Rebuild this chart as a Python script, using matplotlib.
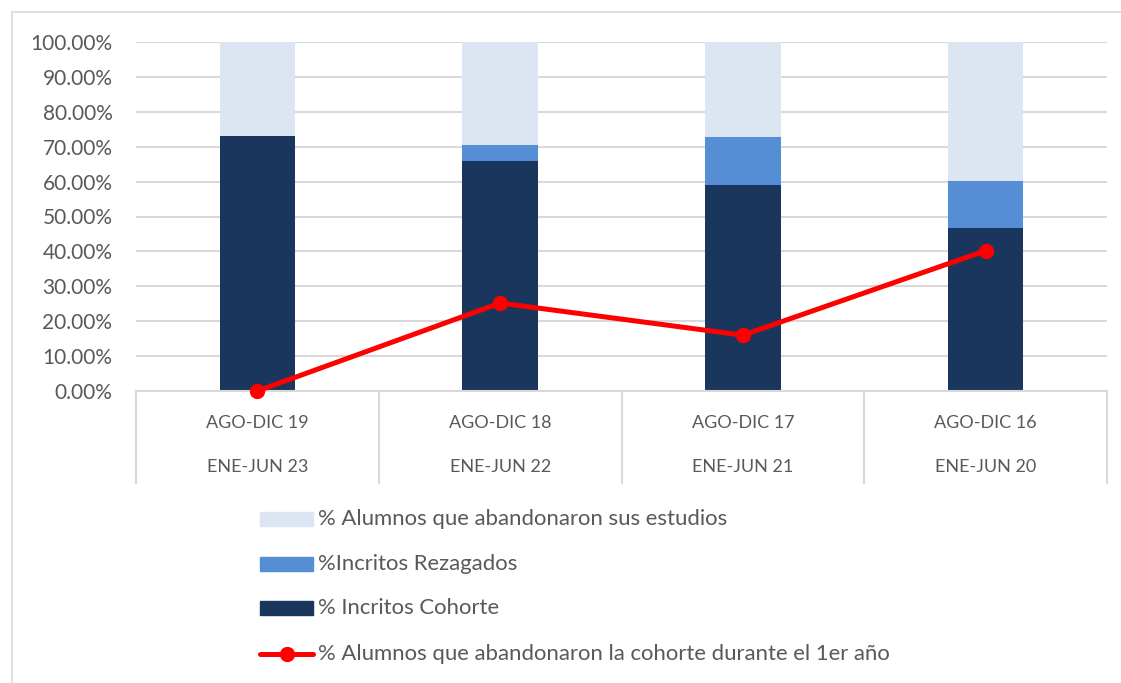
import matplotlib
matplotlib.use("Agg")
import matplotlib.pyplot as plt
import matplotlib.transforms as mtransforms
from matplotlib.patches import Rectangle
from matplotlib.lines import Line2D

# ---- data ----
cat_top = ["AGO-DIC 19", "AGO-DIC 18", "AGO-DIC 17", "AGO-DIC 16"]
cat_bottom = ["ENE-JUN 23", "ENE-JUN 22", "ENE-JUN 21", "ENE-JUN 20"]
cohorte = [0.731, 0.660, 0.591, 0.468]
rezagados = [0.0, 0.045, 0.137, 0.134]
abandonaron = [0.269, 0.295, 0.272, 0.398]
abandono_1er = [0.0, 0.252, 0.160, 0.402]

series_names = ["% Alumnos que abandonaron sus estudios",
                "%Incritos Rezagados",
                "% Incritos Cohorte",
                "% Alumnos que abandonaron la cohorte durante el 1er año"]

C_COH = "#1a365d"
C_REZ = "#558ed5"
C_ABA = "#dce6f2"
C_LINE = "#ff0000"
C_GRID = "#d9d9d9"
C_TXT = "#595959"
FONT = "Lato"

W, H = 1121, 683
fig = plt.figure(figsize=(W / 100, H / 100), dpi=100)

# chart border (top/left visible)
fig.patches.append(Rectangle((12 / W, -0.1), 1.2, 1 - 12 / H + 0.1, transform=fig.transFigure,
                             fill=False, edgecolor=C_GRID, linewidth=1.2))

x0, x1 = 136, 1107
ytop, ybot = 42, 391
ax = fig.add_axes([x0 / W, 1 - ybot / H, (x1 - x0) / W, (ybot - ytop) / H])

x = list(range(len(cat_top)))
bw = 0.31
bottom2 = [c + r for c, r in zip(cohorte, rezagados)]
ax.bar(x, cohorte, width=bw, color=C_COH, zorder=2)
ax.bar(x, rezagados, width=bw, bottom=cohorte, color=C_REZ, zorder=2)
ax.bar(x, abandonaron, width=bw, bottom=bottom2, color=C_ABA, zorder=2)
ax.plot(x, abandono_1er, color=C_LINE, lw=3.6, marker="o", markersize=10, zorder=4,
        clip_on=False, solid_capstyle="round")

ax.set_xlim(-0.5, len(x) - 0.5)
ax.set_ylim(0, 1.0)
ax.set_yticks([i / 10 for i in range(11)])
ax.set_yticklabels([f"{i * 10:.2f}%" for i in range(11)], fontsize=15, color=C_TXT,
                   family=FONT)
ax.tick_params(axis="y", length=0, pad=17)
ax.set_xticks([])
ax.grid(axis="y", color=C_GRID, lw=1.5, zorder=0)
ax.set_axisbelow(True)
for s in ["top", "right", "left"]:
    ax.spines[s].set_visible(False)
ax.spines["bottom"].set_color(C_GRID)
ax.spines["bottom"].set_linewidth(1.5)

# multi-level category axis
trans = mtransforms.blended_transform_factory(ax.transData, ax.transAxes)
ylow = (ybot - 483) / (ybot - ytop)
for xs in [i - 0.5 for i in range(len(x) + 1)]:
    ax.plot([xs, xs], [0, ylow], color=C_GRID, lw=1.5, transform=trans, clip_on=False)
y1 = (ybot - 423) / (ybot - ytop)
y2 = (ybot - 467) / (ybot - ytop)
for i in x:
    ax.text(i, y1, cat_top[i], transform=trans, ha="center", va="center", fontsize=13,
            color=C_TXT, family=FONT)
    ax.text(i, y2, cat_bottom[i], transform=trans, ha="center", va="center", fontsize=13,
            color=C_TXT, family=FONT)

# legend (manual)
leg_rows = [519, 564, 608, 654]
colors = [C_ABA, C_REZ, C_COH]
px0, px1 = 260, 313
for k, yy in enumerate(leg_rows):
    yf = 1 - yy / H
    if k < 3:
        fig.patches.append(Rectangle((px0 / W, 1 - (yy + 7) / H), (px1 - px0) / W, 14 / H,
                                     transform=fig.transFigure, color=colors[k]))
    else:
        fig.lines.append(Line2D([px0 / W, px1 / W], [yf, yf], transform=fig.transFigure,
                                color=C_LINE, lw=3.6, solid_capstyle="round"))
        fig.lines.append(Line2D([(px0 + px1) / 2 / W], [yf], transform=fig.transFigure,
                                color=C_LINE, marker="o", markersize=10))
    fig.text(318 / W, yf, series_names[k], ha="left", va="center", fontsize=15.9,
             color=C_TXT, family=FONT)

fig.savefig("out.png", dpi=100, facecolor="white")
